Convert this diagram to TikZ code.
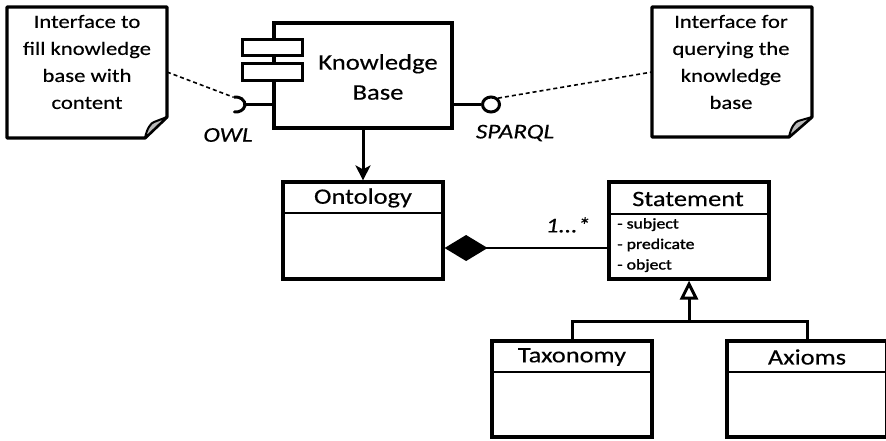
\documentclass[tikz,border=0pt]{standalone}
\usepackage{fontspec}
\setmainfont{Carlito}[FakeStretch=1.2, FakeBold=0.35]
\newfontfamily\attrfam{Carlito}[FakeStretch=1.2, FakeBold=1.4]
\usetikzlibrary{arrows.meta,shapes.geometric}
\newcommand\notefont{\fontsize{18.9}{27}\selectfont}
\newcommand\kbfont{\fontsize{22.2}{30}\selectfont}
\newcommand\clsfont{\fontsize{22}{26}\selectfont}
\newcommand\lblfont{\fontsize{21}{24}\selectfont\itshape}
\newcommand\attrfont{\attrfam\fontsize{14.8}{20.5}\selectfont}
\begin{document}
\begin{tikzpicture}[x=1pt,y=-1pt,
  thick line/.style={line width=3pt},
  notebox/.style={line width=3.2pt, line join=round, fill=white},
  flap/.style={line width=2pt, fill=gray!55, line join=round},
  classbox/.style={draw, line width=3.2pt, minimum width=160pt, minimum height=97pt, inner sep=0pt},
  smallrect/.style={draw, line width=3pt, fill=white, minimum width=60pt, inner sep=0pt},
  dashline/.style={line width=1.6pt, dash pattern=on 4pt off 3pt},
  label/.style={font=\lblfont, inner sep=0pt}
]
\useasboundingbox (0,0) rectangle (886,440);

% ---- left note
\draw[notebox] (7,7) -- (167,7) -- (167,117) -- (145,138) -- (7,138) -- cycle;
\draw[flap] (145,138) .. controls (147,128) and (151,123) .. (154,122) -- (167,117) -- cycle;
\node[font=\notefont, align=center, inner sep=0pt] (noteL) at (87,62) {Interface to\\fill knowledge\\base with\\content};
\coordinate (noteLedge) at (167,72);

% ---- right note
\draw[notebox] (652,7) -- (812,7) -- (812,117) -- (789,137) -- (652,137) -- cycle;
\draw[flap] (789,137) .. controls (791,127) and (795,122) .. (798,121) -- (812,117) -- cycle;
\node[font=\notefont, align=center, inner sep=0pt] (noteR) at (731,62) {Interface for\\querying the\\knowledge\\base};
\coordinate (noteRedge) at (652,72);

% ---- knowledge base component
\node[draw, line width=3.2pt, minimum width=178pt, minimum height=105pt, inner sep=0pt] (kb) at (363,75.5) {};
\node[smallrect, minimum height=16pt] (kbr1) at (272,47) {};
\node[smallrect, minimum height=17pt] (kbr2) at (272,71.5) {};
\node[font=\kbfont, align=center, inner sep=0pt] (kbT) at (378,77) {Knowledge\\Base};

% OWL socket
\coordinate (owlend) at (245,104.5);
\draw[thick line] (kb.west |- owlend) -- (owlend);
\draw[thick line, line cap=round] (234.4,111.9) arc[start angle=100, end angle=-100, x radius=9, y radius=7.5];
\coordinate (owlsock) at (233,97);
\node[label] (owl) at (228,135) {OWL};

% SPARQL lollipop
\node[ellipse, draw, line width=3pt, fill=white, minimum width=17pt, minimum height=15pt, inner sep=0pt] (sparql) at (491,104.5) {};
\draw[thick line] (kb.east |- sparql) -- (sparql.west);
\node[label] (sparqlT) at (515,133) {SPARQL};

% dashed note links
\draw[dashline] (noteLedge) -- (owlsock);
\draw[dashline] (sparql.north east) -- (noteRedge);

% ---- classes
\node[classbox] (ont) at (363,230.5) {};
\node[font=\clsfont, inner sep=0pt] (ontT) at (363,198) {Ontology};
\draw[line width=2.5pt] (ont.west |- 0,213) -- (ont.east |- 0,213);

\node[classbox] (stmt) at (689,230.5) {};
\node[font=\clsfont, inner sep=0pt] (stmtT) at (688,199) {Statement};
\draw[line width=2.5pt] (stmt.west |- 0,214) -- (stmt.east |- 0,214);
\node[font=\attrfont, align=left, anchor=north west, inner sep=0pt] (stmtA) at (617,218) {- subject\\- predicate\\- object};

\node[classbox, minimum height=96pt] (tax) at (572,389) {};
\node[font=\clsfont, inner sep=0pt] (taxT) at (572,357) {Taxonomy};
\draw[line width=2.5pt] (tax.west |- 0,372) -- (tax.east |- 0,372);

\node[classbox, minimum height=96pt] (ax) at (807,389) {};
\node[font=\clsfont, inner sep=0pt] (axT) at (807,357) {Axioms};
\draw[line width=2.5pt] (ax.west |- 0,372) -- (ax.east |- 0,372);

% KB -> Ontology
\draw[thick line, -{Stealth[length=15pt, width=15pt, inset=4pt]}] (kb.south) -- (ont.north);

% composition
\draw[line width=2.8pt, {Diamond[length=43pt, width=26pt]}-] ([yshift=-17.5pt]ont.east) -- ([yshift=-17.5pt]stmt.west);
\node[label] (mult) at (568,225) {1...*};

% generalization
\coordinate (junc) at (689,321);
\draw[thick line, -{Triangle[open, fill=white, length=19pt, width=18pt]}] (junc) -- (stmt.south);
\draw[thick line] (tax.north) |- (junc) -| (ax.north);
\end{tikzpicture}
\end{document}
